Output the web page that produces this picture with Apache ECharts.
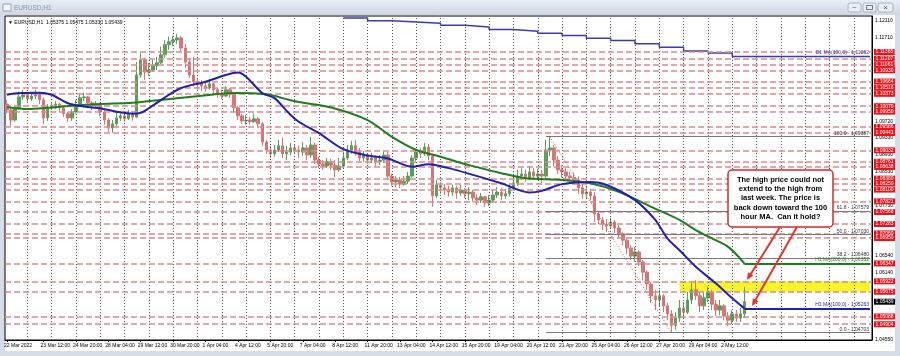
<!DOCTYPE html>
<html><head><meta charset="utf-8">
<script src="https://cdn.jsdelivr.net/npm/echarts@6/dist/echarts.min.js"></script>
<style>
html,body{margin:0;padding:0;background:#d5dde7;}
#wrap{position:relative;width:900px;height:356px;background:#d5dde7;overflow:hidden;}
#bar{position:absolute;left:0;top:0;width:900px;height:15px;background:linear-gradient(#e8eef5,#cdd8e4);}
#paper{position:absolute;left:5px;top:15px;width:890px;height:336px;background:#fff;}
#c{position:absolute;left:0;top:0;width:900px;height:356px;}
</style>
</head><body>
<div id="wrap"><div id="bar"></div><div id="paper"></div><div id="c"></div></div>
<script>
// ---------- data (4-hour candles) ----------
const firstOpen = 1.1013;
const closes = [
1.0999,1.0975,1.1004,1.1030,1.1035,1.1025,1.1032,1.1037,1.1023,1.0980,
1.1004,1.1009,1.1013,1.1004,1.0990,1.0980,1.0994,1.1009,1.1028,1.1030,
1.1016,1.1009,1.1013,1.0994,1.0975,1.0956,1.0966,1.0980,1.0985,1.0978,
1.0990,1.0982,1.1082,1.1118,1.1089,1.1094,1.1104,1.1111,1.1130,1.1154,
1.1161,1.1165,1.1170,1.1146,1.1113,1.1082,1.1066,1.1061,1.1056,1.1051,
1.1061,1.1047,1.1037,1.1032,1.1047,1.1037,1.1004,1.0985,1.0973,1.0975,
1.0971,1.0978,1.0966,1.0923,1.0904,1.0895,1.0904,1.0914,1.0895,1.0899,
1.0909,1.0904,1.0899,1.0909,1.0892,1.0916,1.0880,1.0871,1.0866,1.0876,
1.0868,1.0857,1.0866,1.0885,1.0904,1.0914,1.0899,1.0885,1.0890,1.0880,
1.0885,1.0876,1.0880,1.0892,1.0842,1.0828,1.0833,1.0823,1.0830,1.0842,
1.0885,1.0899,1.0895,1.0911,1.0890,1.0795,1.0821,1.0814,1.0809,1.0804,
1.0814,1.0802,1.0809,1.0800,1.0804,1.0790,1.0785,1.0793,1.0778,1.0785,
1.0797,1.0804,1.0795,1.0800,1.0814,1.0826,1.0842,1.0847,1.0838,1.0852,
1.0842,1.0847,1.0842,1.0904,1.0909,1.0880,1.0857,1.0852,1.0842,1.0838,
1.0833,1.0814,1.0800,1.0804,1.0795,1.0752,1.0738,1.0728,1.0724,1.0733,
1.0719,1.0705,1.0690,1.0671,1.0652,1.0662,1.0638,1.0614,1.0586,1.0558,
1.0548,1.0558,1.0534,1.0515,1.0488,1.0505,1.0529,1.0519,1.0548,1.0572,
1.0558,1.0534,1.0553,1.0567,1.0538,1.0524,1.0534,1.0510,1.0500,1.0515,
1.0505,1.0515,1.05439];
const highs = [
1.1023,1.1004,1.1011,1.1042,1.1047,1.1040,1.1042,1.1047,1.1040,1.1028,
1.1013,1.1016,1.1020,1.1016,1.1009,1.0994,1.1001,1.1023,1.1037,1.1040,
1.1032,1.1020,1.1020,1.1016,1.0999,1.0980,1.0975,1.0992,1.0994,1.0992,
1.0999,1.0997,1.1113,1.1134,1.1123,1.1111,1.1118,1.1125,1.1149,1.1165,
1.1173,1.1175,1.1180,1.1175,1.1156,1.1123,1.1125,1.1075,1.1070,1.1068,
1.1073,1.1063,1.1051,1.1047,1.1056,1.1051,1.1042,1.1009,1.0990,1.0987,
1.0982,1.0990,1.0982,1.0971,1.0928,1.0914,1.0916,1.0928,1.0933,1.0914,
1.0921,1.0916,1.0914,1.0923,1.0916,1.0935,1.0921,1.0888,1.0880,1.0885,
1.0883,1.0880,1.0885,1.0899,1.0916,1.0926,1.0928,1.0909,1.0902,1.0895,
1.0897,1.0892,1.0892,1.0904,1.0899,1.0847,1.0842,1.0840,1.0842,1.0852,
1.0892,1.0907,1.0909,1.0921,1.0918,1.0895,1.0833,1.0828,1.0823,1.0819,
1.0821,1.0819,1.0821,1.0814,1.0816,1.0809,1.0800,1.0802,1.0795,1.0797,
1.0809,1.0816,1.0814,1.0812,1.0826,1.0842,1.0857,1.0861,1.0857,1.0866,
1.0861,1.0859,1.0857,1.0928,1.09357,1.0916,1.0890,1.0868,1.0861,1.0852,
1.0850,1.0842,1.0823,1.0819,1.0812,1.0804,1.0757,1.0745,1.0740,1.0743,
1.0738,1.0726,1.0709,1.0695,1.0678,1.0674,1.0666,1.0643,1.0619,1.0591,
1.0572,1.0572,1.0562,1.0541,1.0524,1.0519,1.0548,1.0543,1.0567,1.0588,
1.0595,1.0567,1.0567,1.0579,1.0572,1.0548,1.0548,1.0538,1.0519,1.0524,
1.0524,1.0529,1.0579];
const lows = [
1.0992,1.0961,1.0971,1.0999,1.1023,1.1018,1.1020,1.1025,1.1013,1.0966,
1.0973,1.0999,1.1001,1.0997,1.0982,1.0971,1.0973,1.0990,1.1006,1.1020,
1.1009,1.0999,1.1004,1.0985,1.0964,1.0947,1.0945,1.0959,1.0973,1.0971,
1.0975,1.0973,1.0980,1.1075,1.1070,1.1080,1.1089,1.1094,1.1108,1.1123,
1.1142,1.1151,1.1156,1.1137,1.1099,1.1075,1.1056,1.1047,1.1044,1.1042,
1.1047,1.1037,1.1028,1.1025,1.1030,1.1028,1.0994,1.0975,1.0966,1.0964,
1.0964,1.0968,1.0959,1.0914,1.0895,1.0885,1.0888,1.0899,1.0885,1.0880,
1.0892,1.0895,1.0885,1.0890,1.0880,1.0885,1.0871,1.0861,1.0857,1.0861,
1.0857,1.0840,1.0852,1.0861,1.0880,1.0895,1.0890,1.0878,1.0876,1.0871,
1.0873,1.0866,1.0868,1.0873,1.0833,1.0819,1.0816,1.0814,1.0819,1.0823,
1.0838,1.0878,1.0885,1.0890,1.0880,1.0769,1.0790,1.0800,1.0797,1.0793,
1.0795,1.0788,1.0795,1.0790,1.0785,1.0781,1.0773,1.0778,1.0769,1.0771,
1.0778,1.0790,1.0785,1.0788,1.0793,1.0809,1.0819,1.0833,1.0828,1.0833,
1.0833,1.0835,1.0826,1.0838,1.0890,1.0866,1.0847,1.0838,1.0830,1.0826,
1.0823,1.0800,1.0788,1.0790,1.0785,1.0733,1.0728,1.0714,1.0709,1.0717,
1.0707,1.0695,1.0678,1.0657,1.0643,1.0638,1.0629,1.0595,1.0572,1.0541,
1.0524,1.0534,1.0519,1.0500,1.04703,1.0477,1.0496,1.0505,1.0515,1.0538,
1.0548,1.0519,1.0524,1.0543,1.0524,1.0510,1.0512,1.0500,1.0486,1.0491,
1.0496,1.0496,1.0505];

// 100-hour MA (blue) read at selected candles
const ma100Slots  = [0,3,8,11,15,19,23,27,31,33,35,39,43,49,54,57,59,63,66,70,72,77,83,89,94,100,104,109,115,122,129,132,137,144,148,155,160,163,166,170,175,179,182];
const ma100Values = [1.1035,1.1039,1.1040,1.1035,1.1015,1.1007,1.1003,1.0995,1.0990,1.0992,1.1003,1.1029,1.1051,1.1066,1.1082,1.1088,1.1078,1.1039,1.1027,1.0987,1.0971,1.0944,1.0906,1.0891,1.0884,1.0864,1.0870,1.0861,1.0845,1.0825,1.0803,1.0807,1.0823,1.0828,1.0821,1.0785,1.0738,1.0694,1.0666,1.0627,1.0587,1.0552,1.0528];
// 200-hour MA (green)
const ma200Slots  = [0,5,11,16,23,31,39,48,56,64,70,72,80,89,95,101,107,114,122,128,137,144,151,159,166,170,174,178,182];
const ma200Values = [1.1006,1.1001,1.1005,1.1009,1.1013,1.1016,1.1024,1.1033,1.1039,1.1036,1.1022,1.1018,1.1005,1.0975,1.0935,1.0904,1.0888,1.0868,1.0849,1.0837,1.0833,1.0825,1.0805,1.0769,1.0738,1.0714,1.0694,1.0674,1.0635];
// daily MA (stepped, top) one value per day
const d1Days   = [13,14,15,16,17,18,19,20,21,22,23,24,25,26,27,28,29];
const d1Values = [1.1217,1.1211,1.1208,1.1205,1.1200,1.1196,1.1190,1.1186,1.1181,1.1176,1.1169,1.1164,1.1156,1.1148,1.1139,1.1134,1.1126];

const redLevels = [1.11365,1.11207,1.11061,1.10930,1.10664,1.10516,1.10373,1.10079,1.09950,1.09586,1.09441,1.09032,1.08761,1.08638,1.08360,1.08250,1.08100,1.07821,1.07568,1.07283,1.07060,1.06950,1.06347,1.05922,1.05675,1.05088,1.04904];
const priceTicks = [1.12110,1.11710,1.09720,1.09330,1.08930,1.08530,1.07730,1.06540,1.06140,1.04550];
const timeLabels = ['22 Mar 2022','23 Mar 12:00','24 Mar 20:00','28 Mar 04:00','29 Mar 12:00','30 Mar 20:00','1 Apr 04:00','4 Apr 12:00','5 Apr 20:00','7 Apr 04:00','8 Apr 12:00','11 Apr 20:00','13 Apr 04:00','14 Apr 12:00','15 Apr 20:00','19 Apr 04:00','20 Apr 12:00','21 Apr 20:00','25 Apr 04:00','26 Apr 12:00','27 Apr 20:00','29 Apr 04:00','2 May 12:00'];
const fibNames  = ['100.0','61.8','50.0','38.2','0.0'];
const fibPrices = [1.09357,1.07579,1.07030,1.06480,1.04703];
const fibStartSlot = 133, fibHighSlot = 134, fibLowSlot = 164;
const zoneTop = 1.05922, zoneBottom = 1.05675, zoneStartSlot = 166;
const currentPrice = 1.05439;
const ma100Label = 'H1 MA(100,0) - 1.05263';
const ma200Label = 'H1 MA(200,0) - 1.06352';
const d1Label = 'D1 MA(100,0) - 1.11262';
const header = '\u25BC EURUSD,H1  1.05375 1.05475 1.05330 1.05439';
const noteLines = ['The high price could not','extend to the high from','last week. The price is','back down toward the 100','hour MA.  Can it hold?'];

// ---------- build ----------
const slotCount = 214;
const lastSlot = slotCount - 1;
const categories = Array.from({length: slotCount}, (_, i) => String(i));
const labelMap = {};
timeLabels.forEach((t, k) => { labelMap[k === 0 ? 0 : 9 + 8 * (k - 1)] = t; });
const candles = closes.map((c, i) => [i === 0 ? firstOpen : closes[i - 1], c, lows[i], highs[i]]);
const anchorData = closes.map((c, i) => [i, c]);   // invisible carrier for reference lines

const FONT = 'Liberation Sans';
const CLEAR = {color: 'rgba(0,0,0,0)', width: 0.1};
const vLines = [];
for (let s = 5; s < slotCount; s += 6) {
  vLines.push({xAxis: s, lineStyle: {color: '#555', type: [1, 2], width: 1}, label: {show: false}});
}
const hLines = redLevels.map(v => ({yAxis: v, lineStyle: {color: '#dc8a8c', type: [6, 3], width: 1.6}, label: {show: false}}));

const axisLabelLines = [];
priceTicks.forEach(v => axisLabelLines.push({yAxis: v, lineStyle: CLEAR,
  label: {show: true, position: 'end', distance: 3, formatter: v.toFixed(5), color: '#000', fontSize: 5, fontFamily: FONT}}));
redLevels.forEach(v => axisLabelLines.push({yAxis: v, lineStyle: CLEAR,
  label: {show: true, position: 'end', distance: 2, formatter: v.toFixed(5), color: '#fff', backgroundColor: '#e8141c', padding: [1, 1.5, 0, 1.5], fontSize: 5, fontFamily: FONT}}));
axisLabelLines.push({yAxis: currentPrice, lineStyle: CLEAR,
  label: {show: true, position: 'end', distance: 2, formatter: currentPrice.toFixed(5), color: '#fff', backgroundColor: '#000', padding: [1, 1.5, 0, 1.5], fontSize: 5, fontFamily: FONT}});

const fibLines = fibPrices.map((p, k) => [
  {coord: [fibStartSlot, p], lineStyle: {color: '#7a7a7a', width: 1, type: 'solid'},
   label: {show: true, position: 'insideEndTop', distance: 1, formatter: fibNames[k] + ' - ' + p.toFixed(5), color: '#333', fontSize: 5, fontFamily: FONT}},
  {coord: [lastSlot, p]}]);
fibLines.push([{coord: [fibHighSlot, fibPrices[0]], lineStyle: {color: '#c25252', width: 1, type: [1, 2]}, label: {show: false}},
  {coord: [fibLowSlot, fibPrices[fibPrices.length - 1]]}]);

function projection(slot, val, color, text) {
  return [[{coord: [slot, val], lineStyle: {color: color, width: 2, type: 'solid'},
    label: {show: true, position: 'insideEndTop', distance: 1, formatter: text, color: color, fontSize: 5, fontFamily: FONT}},
    {coord: [lastSlot, val]}]];
}

const d1Data = d1Days.map((d, k) => [5 + 6 * d, d1Values[k]]);
d1Data.push([lastSlot, d1Values[d1Values.length - 1]]);

const hidden = {lineStyle: {opacity: 0}, itemStyle: {opacity: 0}, showSymbol: false, silent: true, tooltip: {show: false}};
const ML = {silent: true, symbol: ['none', 'none'], animation: false, precision: 6};

const chart = echarts.init(document.getElementById('c'), null, {renderer: 'canvas'});
chart.setOption({
  animation: false,
  backgroundColor: 'transparent',
  grid: {left: 5, right: 28, top: 16, bottom: 16, show: true, borderColor: '#000', borderWidth: 1, backgroundColor: 'transparent'},
  xAxis: {
    type: 'category', data: categories, boundaryGap: true,
    axisLine: {show: true, lineStyle: {color: '#000', width: 1}},
    axisTick: {show: true, interval: (i) => labelMap[i] !== undefined, length: 2, alignWithLabel: true, lineStyle: {color: '#000'}},
    axisLabel: {interval: (i) => labelMap[i] !== undefined, formatter: (v, i) => labelMap[i] || '',
      fontSize: 5, fontFamily: FONT, color: '#000', align: 'left', margin: 3, padding: [0, 0, 0, -3]},
    splitLine: {show: false}
  },
  yAxis: {
    type: 'value', position: 'right', min: 1.0453, max: 1.1222, scale: true,
    axisLine: {show: true, lineStyle: {color: '#000'}},
    axisTick: {show: false}, axisLabel: {show: false}, splitLine: {show: false}
  },
  graphic: [
    {type: 'rect', shape: {x: 3, y: 4, width: 8, height: 7}, style: {fill: '#f4f7fb', stroke: '#8ea4bb', lineWidth: 1}, silent: true},
    {type: 'text', x: 14, y: 8, style: {text: 'EURUSD,H1', font: '6.5px ' + FONT, fill: '#8795a4', verticalAlign: 'middle'}, silent: true},
    {type: 'rect', shape: {x: 848, y: 3, width: 13, height: 9, r: 2}, style: {fill: '#e9eef4', stroke: '#9aaabb', lineWidth: 0.8}},
    {type: 'rect', shape: {x: 863, y: 3, width: 13, height: 9, r: 2}, style: {fill: '#e9eef4', stroke: '#9aaabb', lineWidth: 0.8}},
    {type: 'rect', shape: {x: 878, y: 3, width: 15, height: 9, r: 2}, style: {fill: '#e9eef4', stroke: '#9aaabb', lineWidth: 0.8}},
    {type: 'text', x: 854.5, y: 7.5, style: {text: '\u2013', font: '7px ' + FONT, fill: '#555', align: 'center', verticalAlign: 'middle'}},
    {type: 'rect', shape: {x: 866.5, y: 5.5, width: 6, height: 4}, style: {fill: 'none', stroke: '#555', lineWidth: 0.8}},
    {type: 'text', x: 885.5, y: 7.5, style: {text: '\u00D7', font: '8px ' + FONT, fill: '#555', align: 'center', verticalAlign: 'middle'}},
    {type: 'text', x: 8, y: 23, style: {text: header, font: '5px ' + FONT, fill: '#000', verticalAlign: 'middle'}, z: 50},
    {type: 'rect', z: 60, shape: {x: 728, y: 170, width: 105, height: 57, r: 4}, style: {fill: '#fff', stroke: '#d32b2b', lineWidth: 1.5}},
    {type: 'text', z: 61, x: 780.5, y: 175, style: {text: noteLines.join('\n'), font: 'bold 7.5px ' + FONT, fill: '#000', align: 'center', verticalAlign: 'top', lineHeight: 9.3}},
    {type: 'line', z: 60, shape: {x1: 780, y1: 227, x2: 750.5, y2: 274.5}, style: {stroke: '#e8322c', lineWidth: 2}},
    {type: 'polygon', z: 60, shape: {points: [[747, 280], [753.4, 275.6], [748, 272.3]]}, style: {fill: '#e8322c'}},
    {type: 'line', z: 60, shape: {x1: 797, y1: 227, x2: 755.3, y2: 300.2}, style: {stroke: '#e8322c', lineWidth: 2}},
    {type: 'polygon', z: 60, shape: {points: [[752, 306], [758.3, 301.4], [752.8, 298.2]]}, style: {fill: '#e8322c'}}
  ],
  series: [
    Object.assign({type: 'line', name: 'bg', data: anchorData, z: 1,
     markLine: Object.assign({data: vLines.concat(hLines)}, ML),
     markArea: {silent: true, itemStyle: {color: '#f4f41c', opacity: 0.95},
       data: [[{coord: [zoneStartSlot, zoneTop]}, {coord: [lastSlot, zoneBottom]}]]}}, hidden),
    {type: 'candlestick', name: 'EURUSD', data: candles, z: 3, barWidth: 3,
     itemStyle: {color: '#5e9e5c', color0: '#d47676', borderColor: '#5e9e5c', borderColor0: '#d47676', borderWidth: 1}},
    Object.assign({type: 'line', name: 'fib', data: anchorData, z: 2,
     markLine: Object.assign({data: fibLines}, ML)}, hidden),
    {type: 'line', name: 'D1 MA', data: d1Data, step: 'end', showSymbol: false, z: 4,
     lineStyle: {color: '#3b3bb0', width: 1.5},
     markLine: Object.assign({data: [[{coord: [5 + 6 * d1Days[d1Days.length - 1], d1Values[d1Values.length - 1]], lineStyle: CLEAR,
         label: {show: true, position: 'insideEndTop', distance: 1, formatter: d1Label, color: '#3b3bb0', fontSize: 5, fontFamily: FONT}},
         {coord: [lastSlot, d1Values[d1Values.length - 1]]}]]}, ML)},
    {type: 'line', name: 'MA200', data: ma200Slots.map((s, k) => [s, ma200Values[k]]), smooth: 0.3, showSymbol: false, z: 5,
     lineStyle: {color: '#1f7d1f', width: 2},
     markLine: Object.assign({data: projection(ma200Slots[ma200Slots.length - 1], ma200Values[ma200Values.length - 1], '#1f7d1f', ma200Label)}, ML)},
    {type: 'line', name: 'MA100', data: ma100Slots.map((s, k) => [s, ma100Values[k]]), smooth: 0.3, showSymbol: false, z: 6,
     lineStyle: {color: '#2020b2', width: 2},
     markLine: Object.assign({data: projection(ma100Slots[ma100Slots.length - 1], ma100Values[ma100Values.length - 1], '#2020b2', ma100Label)}, ML)},
    Object.assign({type: 'line', name: 'axislabels', data: anchorData, z: 10,
     markLine: Object.assign({data: axisLabelLines}, ML)}, hidden)
  ]
});
</script>
</body></html>
